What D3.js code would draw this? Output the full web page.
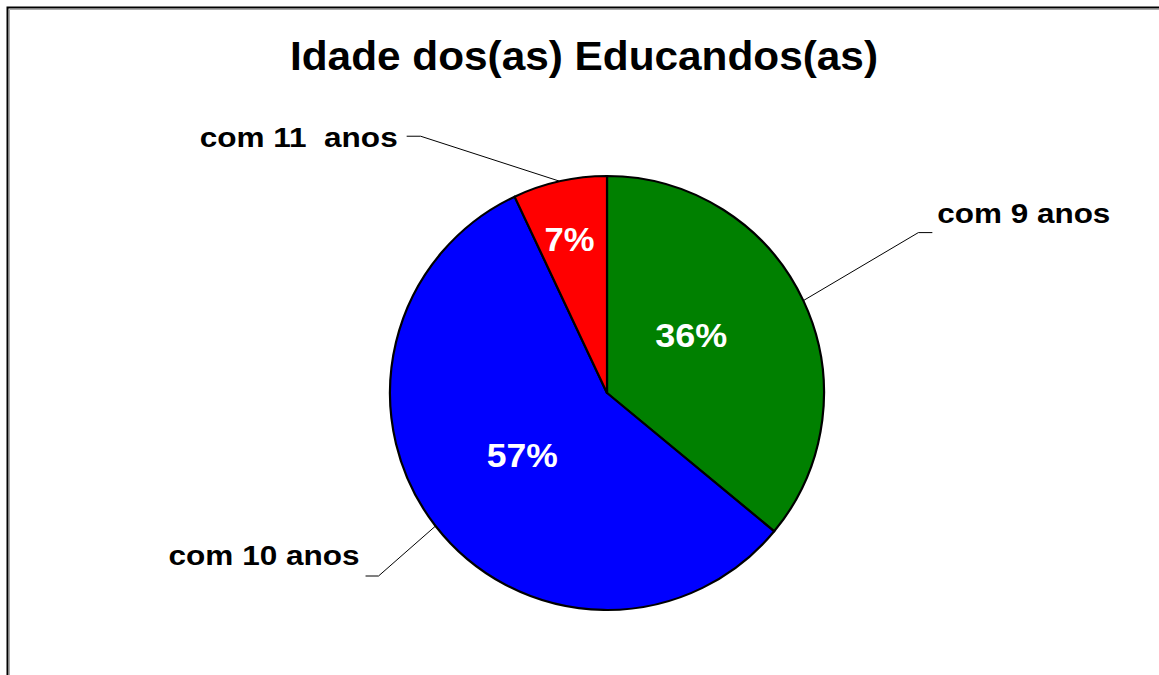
<!DOCTYPE html>
<html>
<head>
<meta charset="utf-8">
<script src="https://cdn.jsdelivr.net/npm/d3@7"></script>
<style>
  body { margin: 0; background: #fff; }
  text { font-family: "Liberation Sans", Arial, sans-serif; font-weight: bold; white-space: pre; }
</style>
</head>
<body>
<svg id="chart" width="1159" height="675"></svg>
<script>
// data
const categories = ['com 9 anos', 'com 10 anos', 'com 11  anos'];
const values = [36, 57, 7];
const colors = ['#008000', '#0000ff', '#ff0000'];
const title = 'Idade dos(as) Educandos(as)';

// layout of labels (offsets from the slice mid-point on the rim)
const leaderLayout = [
    { dx: 115, dy: -68, tail: 14, tx: 5, ty: -10, anchor: 'start', len: 173 },
    { dx: -57, dy: 50, tail: -13, tx: -6, ty: -11, anchor: 'end', len: 191 },
    { dx: -139, dy: -45, tail: -14, tx: -9, ty: 11, anchor: 'end', len: 198 }
];
const pctLayout = [
    { rho: 102, dx: -8, dy: -3, len: 72 },
    { rho: 106, dx: -1, dy: 9, len: 71 },
    { rho: 158, dx: -3, dy: 12, len: 50 }
];

const svg = d3.select('#chart');
const cx = 607, cy = 393, radius = 217;

// frame (only top and left edges are inside the picture)
svg.append('rect')
    .attr('x', 7.5).attr('y', 7.5)
    .attr('width', 1200).attr('height', 700)
    .attr('fill', 'none')
    .attr('stroke', '#000')
    .attr('stroke-width', 2);
svg.append('path')
    .attr('d', 'M9.5,700V9.5H1200')
    .attr('fill', 'none')
    .attr('stroke', '#aaa')
    .attr('stroke-width', 1);

svg.append('text')
    .attr('x', 584)
    .attr('y', 70)
    .attr('text-anchor', 'middle')
    .attr('font-size', 40)
    .attr('textLength', 588)
    .attr('lengthAdjust', 'spacingAndGlyphs')
    .text(title);

const pie = d3.pie().sort(null).value((d) => d);
const arcs = pie(values);

const arc = d3.arc().innerRadius(0).outerRadius(radius);

const g = svg.append('g')
    .attr('transform', `translate(${cx}, ${cy})`);

g.selectAll('path.slice')
    .data(arcs)
    .enter()
    .append('path')
    .attr('class', 'slice')
    .attr('d', arc)
    .attr('fill', (d, i) => colors[i])
    .attr('stroke', '#000')
    .attr('stroke-width', 2.2)
    .attr('stroke-linejoin', 'round');

const midAngle = (d) => (d.startAngle + d.endAngle) / 2;
const rimPoint = (d, r) => {
    const a = midAngle(d);
    return [r * Math.sin(a), -r * Math.cos(a)];
};

// percent labels
g.selectAll('text.pct')
    .data(arcs)
    .enter()
    .append('text')
    .attr('class', 'pct')
    .attr('x', (d, i) => rimPoint(d, pctLayout[i].rho)[0] + pctLayout[i].dx)
    .attr('y', (d, i) => rimPoint(d, pctLayout[i].rho)[1] + pctLayout[i].dy)
    .attr('text-anchor', 'middle')
    .attr('font-size', 34)
    .attr('fill', '#fff')
    .attr('textLength', (d, i) => pctLayout[i].len)
    .attr('lengthAdjust', 'spacingAndGlyphs')
    .text((d) => `${d.data}%`);

// leader lines and category labels
arcs.forEach((d, i) => {
    const L = leaderLayout[i];
    const p0 = rimPoint(d, radius);
    const p1 = [p0[0] + L.dx, p0[1] + L.dy];
    const p2 = [p1[0] + L.tail, p1[1]];

    g.append('path')
        .attr('d', d3.line()([p0, p1, p2]))
        .attr('fill', 'none')
        .attr('stroke', '#000')
        .attr('stroke-width', 1);

    g.append('text')
        .attr('x', p2[0] + L.tx)
        .attr('y', p2[1] + L.ty)
        .attr('text-anchor', L.anchor)
        .attr('font-size', 28)
        .attr('fill', '#000')
        .attr('textLength', L.len)
        .attr('lengthAdjust', 'spacingAndGlyphs')
        .text(categories[i]);
});
</script>
</body>
</html>
